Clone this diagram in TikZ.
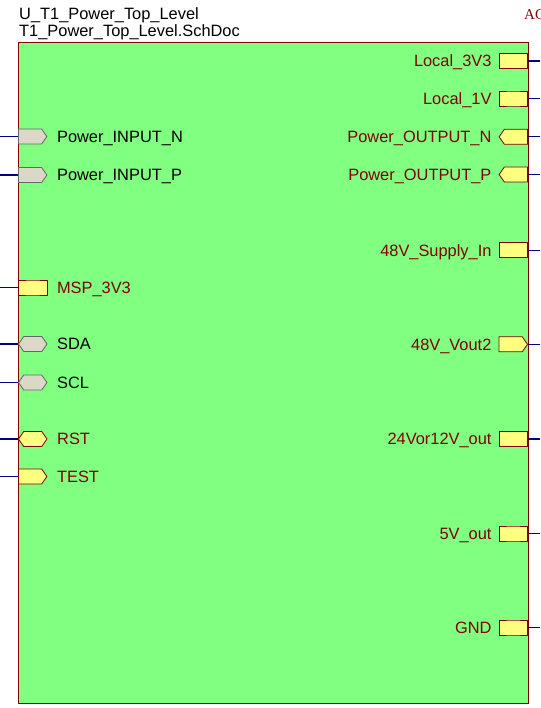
\documentclass[tikz,border=0pt]{standalone}
\usepackage{fontspec}
\setmainfont{Liberation Sans}
\newfontfamily\acfont{Liberation Serif}
\usetikzlibrary{positioning,shapes.symbols}
\definecolor{sheetgreen}{RGB}{128,255,128}
\definecolor{portyellow}{RGB}{255,255,128}
\definecolor{portgray}{RGB}{220,216,200}
\definecolor{edgered}{RGB}{128,0,0}
\definecolor{wireblue}{RGB}{0,0,128}
\tikzset{
  port/.style={signal, inner sep=0pt, minimum width=28.5pt, minimum height=15pt,
    signal pointer angle=110, line width=0.8pt, signal to=nowhere},
  pwr/.style={port, fill=portyellow, draw=edgered},
  sig/.style={port, fill=portgray, draw=black!60},
  lbl/.style={inner sep=0pt, text height=11.7pt, text depth=0pt,
    font=\fontsize{16.4}{19}\selectfont},
  redlbl/.style={lbl, text=edgered},
  wire/.style={wireblue, line width=1.3pt},
}

\begin{document}
\begin{tikzpicture}[x=1pt, y=-1pt]
\useasboundingbox (0,0) rectangle (540,708);
\coordinate (lx) at (0,0);
\coordinate (rx) at (540,0);

% sheet symbol
\node (sheet) [draw=edgered, line width=1pt, fill=sheetgreen, anchor=north west,
  minimum width=510pt, minimum height=661pt, inner sep=0pt] at (18,42) {};
\node (desig) [anchor=base west, inner sep=0pt, font=\fontsize{16.4}{19}\selectfont]
  at (19,20) {U\_T1\_Power\_Top\_Level};
\node (fname) [anchor=base west, inner sep=0pt, font=\fontsize{16.4}{19}\selectfont]
  at (19,36.5) {T1\_Power\_Top\_Level.SchDoc};
\node (ac) [anchor=base west, inner sep=0pt, text=edgered,
  font=\acfont\fontsize{15}{18}\selectfont] at (524,20) {AC};

% left entries
\node (inN) [sig, signal to=east, anchor=west] at (18,136.5) {};
\node [lbl, right=9.5pt of inN] {Power\_INPUT\_N};
\node (inP) [sig, signal to=east, anchor=west] at (18,175) {};
\node [lbl, right=9.5pt of inP] {Power\_INPUT\_P};
\node (msp) [pwr, anchor=west] at (18,287.5) {};
\node [redlbl, right=9.5pt of msp] {MSP\_3V3};
\node (sda) [sig, signal to=east and west, anchor=west] at (18,344) {};
\node [lbl, right=9.5pt of sda] {SDA};
\node (scl) [sig, signal to=east and west, anchor=west] at (18,382.5) {};
\node [lbl, right=9.5pt of scl] {SCL};
\node (rst) [pwr, signal to=east and west, anchor=west] at (18,439) {};
\node [redlbl, right=9.5pt of rst] {RST};
\node (test) [pwr, signal to=east, anchor=west] at (18,476.5) {};
\node [redlbl, right=9.5pt of test] {TEST};

% right entries
\node (l3v3) [pwr, anchor=east] at (528,61) {};
\node [redlbl, left=7pt of l3v3] {Local\_3V3};
\node (l1v) [pwr, anchor=east] at (528,98.5) {};
\node [redlbl, left=7pt of l1v] {Local\_1V};
\node (outN) [pwr, signal to=west, anchor=east] at (528,136.8) {};
\node [redlbl, left=7pt of outN] {Power\_OUTPUT\_N};
\node (outP) [pwr, signal to=west, anchor=east] at (528,174.5) {};
\node [redlbl, left=7pt of outP] {Power\_OUTPUT\_P};
\node (sup48) [pwr, anchor=east] at (528,250.2) {};
\node [redlbl, left=7pt of sup48] {48V\_Supply\_In};
\node (vout2) [pwr, signal to=east, anchor=east] at (528,344.3) {};
\node [redlbl, left=7pt of vout2] {48V\_Vout2};
\node (o24) [pwr, anchor=east] at (528,439) {};
\node [redlbl, left=7pt of o24] {24Vor12V\_out};
\node (o5) [pwr, anchor=east] at (528,533.5) {};
\node [redlbl, left=7pt of o5] {5V\_out};
\node (gnd) [pwr, anchor=east] at (528,627.5) {};
\node [redlbl, left=7pt of gnd] {GND};

% wires
\foreach \p in {inN,inP,msp,sda,scl,rst,test} {
  \coordinate (\p-end) at (\p.west -| lx);
  \draw[wire] (\p.west) -- (\p-end);
}
\foreach \p in {l3v3,l1v,outN,outP,sup48,vout2,o24,o5,gnd} {
  \coordinate (\p-end) at (\p.east -| rx);
  \draw[wire] (\p.east) -- (\p-end);
}
\end{tikzpicture}
\end{document}
